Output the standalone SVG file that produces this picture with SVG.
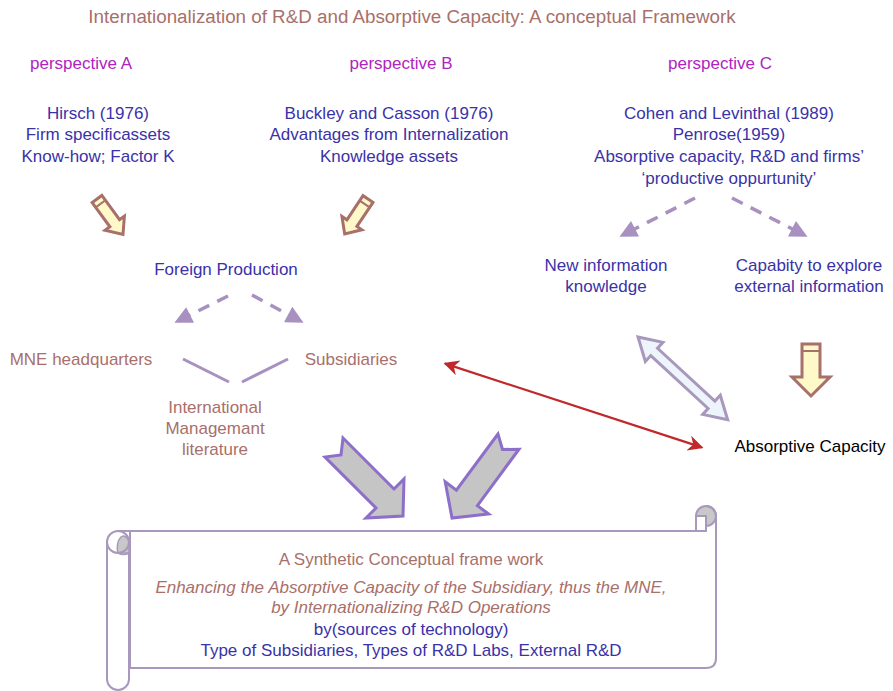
<svg xmlns="http://www.w3.org/2000/svg" width="893" height="691" viewBox="0 0 893 691">
<defs>
<style>
text{font-family:"Liberation Sans",Arial,sans-serif;font-size:17px;text-anchor:middle}
.br{fill:#a8706a}
.mg{fill:#b024c0}
.bl{fill:#3a32a8}
.bk{fill:#000}
.it{font-style:italic}
.dash{stroke:#a890c0;stroke-width:3.5;stroke-dasharray:12 9;fill:none}
.sol{stroke:#a890c0;stroke-width:3;fill:none}
.yel{fill:#fff8c8;stroke:#a8706a;stroke-width:3;stroke-linejoin:miter}
.gry{fill:#c4c5c4;stroke:#8d6ec8;stroke-width:3}
.lbl{fill:#eef4fb;stroke:#a898bc;stroke-width:3}
.scr{fill:#fff;stroke:#a898bc;stroke-width:2}
</style>
<marker id="dh" viewBox="0 0 10 10" refX="9" refY="5" markerWidth="6" markerHeight="5" markerUnits="strokeWidth" orient="auto">
<path d="M0,0 L10,5 L0,10 z" fill="#a890c0"/>
</marker>
<marker id="rh" viewBox="0 0 10 10" refX="9" refY="5" markerWidth="9" markerHeight="7" markerUnits="strokeWidth" orient="auto-start-reverse">
<path d="M0,0 L10,5 L0,10 L3,5 z" fill="#c0282a"/>
</marker>
</defs>
<rect width="893" height="691" fill="#fff"/>

<text id="title" class="br" x="412" y="23" style="font-size:18.8px">Internationalization of R&amp;D and Absorptive Capacity: A conceptual Framework</text>

<g id="perspA"><text class="mg" x="81" y="69">perspective A</text></g>
<g id="perspB"><text class="mg" x="401" y="69">perspective B</text></g>
<g id="perspC"><text class="mg" x="720" y="69">perspective C</text></g>

<g id="colA">
<text class="bl" x="98" y="119">Hirsch (1976)</text>
<text class="bl" x="98" y="140">Firm specificassets</text>
<text class="bl" x="98" y="162">Know-how; Factor K</text>
</g>
<g id="colB">
<text class="bl" x="389" y="119">Buckley and Casson (1976)</text>
<text class="bl" x="389" y="140">Advantages from Internalization</text>
<text class="bl" x="389" y="162">Knowledge assets</text>
</g>
<g id="colC">
<text class="bl" x="729" y="119">Cohen and Levinthal (1989)</text>
<text class="bl" x="729" y="140">Penrose(1959)</text>
<text class="bl" x="729" y="162">Absorptive capacity, R&amp;D and firms’</text>
<text class="bl" x="729" y="184">‘productive oppurtunity’</text>
</g>

<g id="foreign"><text class="bl" x="226" y="275">Foreign Production</text></g>
<g id="newinfo">
<text class="bl" x="606" y="271">New information</text>
<text class="bl" x="606" y="292">knowledge</text>
</g>
<g id="capab">
<text class="bl" x="809" y="271">Capabity to explore</text>
<text class="bl" x="809" y="292">external information</text>
</g>
<g id="mnehq"><text class="br" x="81" y="365">MNE headquarters</text></g>
<g id="subs"><text class="br" x="351" y="365">Subsidiaries</text></g>
<g id="intl">
<text class="br" x="215" y="413">International</text>
<text class="br" x="215" y="434">Managemant</text>
<text class="br" x="215" y="455">literature</text>
</g>
<g id="absorb"><text class="bk" x="810" y="452">Absorptive Capacity</text></g>

<g id="connectors">
<g transform="translate(97,199) rotate(53.8)">
<polygon class="yel" points="0,-6 30,-6 30,-12 44,0 30,12 30,6 0,6"/>
<line x1="6" y1="-6" x2="6" y2="6" stroke="#a8706a" stroke-width="2"/>
</g>
<g transform="translate(368,199) rotate(123.7)">
<polygon class="yel" points="0,-6 29,-6 29,-12 42,0 29,12 29,6 0,6"/>
<line x1="6" y1="-6" x2="6" y2="6" stroke="#a8706a" stroke-width="2"/>
</g>
<g>
<polygon class="yel" points="802,344 820,344 820,377 830,377 811,396 792,377 802,377"/>
<line x1="802" y1="351" x2="820" y2="351" stroke="#a8706a" stroke-width="2"/>
</g>

<line class="dash" x1="695" y1="198" x2="621" y2="236" stroke-dasharray="10 8 12 8 12 8 40" marker-end="url(#dh)"/>
<line class="dash" x1="732" y1="198" x2="806" y2="236" stroke-dasharray="10 8 12 8 12 8 40" marker-end="url(#dh)"/>
<line class="dash" x1="228" y1="296" x2="176" y2="322" stroke-dasharray="6 10 12 6 40" marker-end="url(#dh)"/>
<line class="dash" x1="252" y1="295" x2="302" y2="322" stroke-dasharray="3 10 12 6 40" marker-end="url(#dh)"/>

<line class="sol" x1="183" y1="359" x2="229" y2="382"/>
<line class="sol" x1="242" y1="382" x2="288" y2="359"/>

<g transform="translate(638,337) rotate(42.7)">
<polygon class="lbl" points="0,0 22,-13 22,-5 100,-5 100,-13 122,0 100,13 100,5 22,5 22,13"/>
</g>

<line x1="445" y1="363.6" x2="702" y2="447.4" stroke="#c0282a" stroke-width="2.2" marker-start="url(#rh)" marker-end="url(#rh)"/>

<polygon class="gry" points="343,438 394,489 404,479 403,516 366,518 376,508 325,457 341,455"/>
<polygon class="gry" points="498,434 456.4,490.2 445.2,481.8 452,518 488.6,514 477.4,505.6 519,449.2 502.5,449.5"/>
</g>

<g id="scroll">
<path class="scr" d="M118,531 L706,531 L706,516 L716,516 L716,658 Q716,668 706,668 L130,668 L130,531"/>
<circle cx="706" cy="516" r="10" fill="#c8c8c8" stroke="#a898bc" stroke-width="2"/>
<rect x="696" y="516" width="10" height="15" fill="#fff" stroke="#a898bc" stroke-width="2"/>
<path d="M706,506 A10,10 0 0 1 716,516" fill="none" stroke="#a898bc" stroke-width="2"/>
<path class="scr" d="M107,542 A11,11 0 0 1 129,542 L129,679 A11,11 0 0 1 107,679 Z"/>
<path d="M118,553 A6,11 0 0 1 129,542 L129,553 Z" fill="#c8c8c8" stroke="#a898bc" stroke-width="1.5"/>
<path d="M107,542 A11,11 0 0 0 129,542" fill="none" stroke="#a898bc" stroke-width="2"/>
<path d="M118,553 A11,11 0 0 0 129,553" fill="none" stroke="#a898bc" stroke-width="1.5"/>
<text class="br" x="411" y="565">A Synthetic Conceptual frame work</text>
<text class="br it" x="411" y="593">Enhancing the Absorptive Capacity of the Subsidiary, thus the MNE,</text>
<text class="br it" x="411" y="613">by Internationalizing R&amp;D Operations</text>
<text class="bl" x="411" y="635">by(sources of technology)</text>
<text class="bl" x="411" y="656">Type of Subsidiaries, Types of R&amp;D Labs, External R&amp;D</text>
</g>
</svg>
